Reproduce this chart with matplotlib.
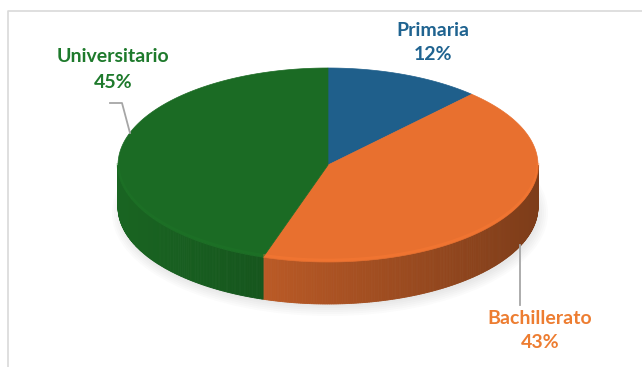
import numpy as np
import matplotlib.pyplot as plt
from matplotlib.patches import Polygon, Ellipse

# nivel de estudios
categorias = ['Primaria', 'Bachillerato', 'Universitario']
valores = [12, 43, 45]
colores = ['#1F5F8B', '#E8702F', '#1B6B24']
colores_texto = ['#1F6390', '#ED7D31', '#1E7A2C']

cx, cy = 328, 165
rx, ry = 210, 97
grosor = 42


def punto(t, dy=0):
    # t en grados, sentido horario desde arriba
    r = np.radians(t)
    return cx + rx * np.sin(r), cy - ry * np.cos(r) + dy


def tono(c, f):
    c = np.array(plt.matplotlib.colors.to_rgb(c))
    return tuple(np.clip(c * f, 0, 1))


fig = plt.figure(figsize=(6.42, 3.67), dpi=100)
ax = fig.add_axes([0, 0, 1, 1])
ax.set_xlim(0, 642)
ax.set_ylim(367, 0)
ax.axis('off')

# marco
ax.plot([8, 8, 642], [367, 11, 11], color='#D9D9D9', lw=1.2)

# sombra
for k in range(6):
    ax.add_patch(Ellipse((cx + 2, cy + grosor + 6), 2 * rx + 16 - 4 * k,
                         2 * ry + 12 - 4 * k, color='#808080', alpha=0.03, lw=0))

total = sum(valores)
angulos = np.cumsum([0] + valores) / total * 360

# lateral visible (mitad inferior)
for i in range(len(valores)):
    a0, a1 = max(angulos[i], 90), min(angulos[i + 1], 270)
    if a1 <= a0:
        continue
    pasos = np.linspace(a0, a1, int((a1 - a0) * 2) + 2)
    for t0, t1 in zip(pasos[:-1], pasos[1:]):
        f = 0.74 - 0.2 * np.sin(np.radians((t0 + t1) / 2))
        pts = [punto(t0), punto(t1), punto(t1, grosor), punto(t0, grosor)]
        ax.add_patch(Polygon(pts, closed=True, fc=tono(colores[i], f),
                             ec=tono(colores[i], f), lw=0.6))

# cara superior
for i in range(len(valores)):
    ts = np.linspace(angulos[i], angulos[i + 1], 200)
    pts = [(cx, cy)] + [punto(t) for t in ts]
    ax.add_patch(Polygon(pts, closed=True, fc=colores[i], ec=colores[i], lw=0.5))
    # brillo suave del borde
    a0, a1 = max(angulos[i], 90), min(angulos[i + 1], 270)
    if a1 > a0:
        tb = np.linspace(a0, a1, 100)
        xb, yb = zip(*[punto(t, -2) for t in tb])
        ax.plot(xb, yb, color=tono(colores[i], 1.12), lw=2, alpha=0.35,
                solid_capstyle='butt')

# etiquetas
fuente = dict(family=['Lato', 'DejaVu Sans'], fontweight='bold', fontsize=14,
              ha='center', va='center')
posiciones = [(433, 30), (540, 318), (113, 57)]
for cat, val, col, (x, y) in zip(categorias, valores, colores_texto, posiciones):
    ax.text(x, y, cat, color=col, **fuente)
    ax.text(x, y + 25, f'{val}%', color=col, **fuente)

# lineas guia
ax.plot([110, 122, 130], [103, 103, 133], color='#A6A6A6', lw=1.3)
ax.plot([520, 520], [245, 305], color='#A6A6A6', lw=1.3)

fig.savefig('out.png', dpi=100)
